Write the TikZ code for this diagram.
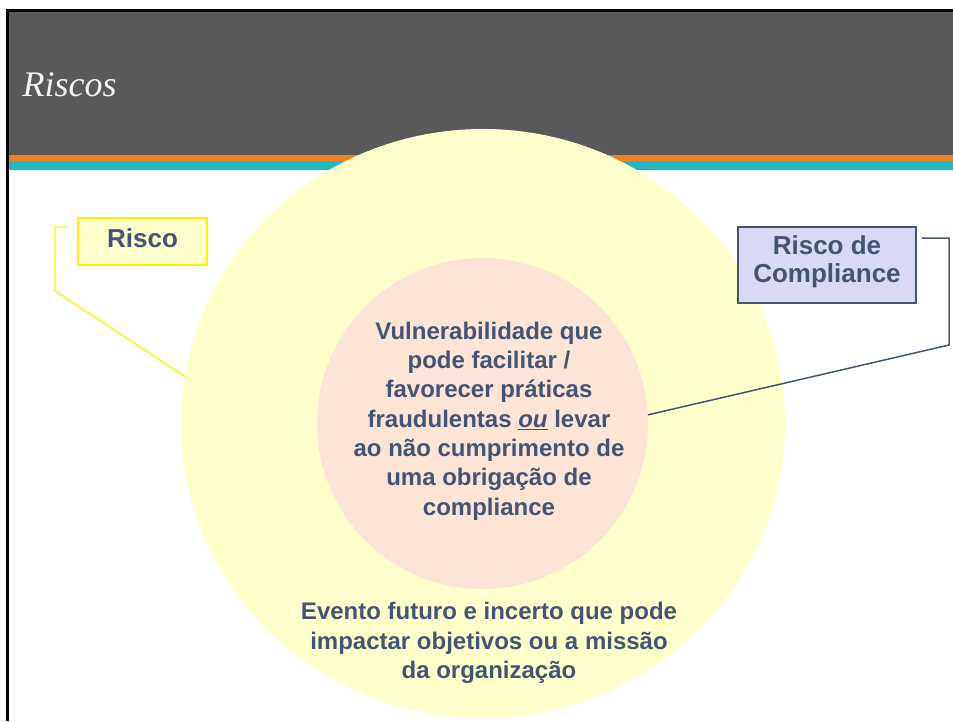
\documentclass[tikz,border=0pt]{standalone}
\usepackage{fontspec}
\setmainfont{Liberation Sans}
\newfontfamily\titlefont{Liberation Serif}
\usepackage{tikz}
\usetikzlibrary{shapes.geometric}

\definecolor{headgray}{RGB}{89,89,89}
\definecolor{stripeorange}{RGB}{240,127,35}
\definecolor{stripeteal}{RGB}{31,185,193}
\definecolor{outeryellow}{RGB}{255,255,204}
\definecolor{innerpeach}{RGB}{252,228,214}
\definecolor{textblue}{RGB}{68,84,116}
\definecolor{boxlilac}{RGB}{217,217,243}

\tikzset{
  bodytext/.style={text=textblue, align=center, font=\bfseries\fontsize{24}{29.3}\selectfont},
  labelbox/.style={text=textblue, align=center, inner sep=0pt, font=\bfseries\fontsize{26}{28.5}\selectfont}
}

\begin{document}
\begin{tikzpicture}[x=1pt, y=-1pt]
        \useasboundingbox (0,0) rectangle (953,721);

        % header
        \fill[headgray] (9,12) rectangle (953,155);
        \fill[stripeorange] (9,155) rectangle (953,161);
        \fill[stripeteal] (9,161) rectangle (953,170);
        \draw[black, line width=3pt] (7.5,721) -- (7.5,10.5) -- (953,10.5);
        \node[anchor=west, text=white!95!black, font=\titlefont\itshape\fontsize{36}{40}\selectfont] (title) at (19,85) {Riscos};

        % circles
        \node[shape=ellipse, fill=outeryellow, inner sep=0pt, minimum width=604pt, minimum height=589pt] (outer) at (483,423.5) {};
        \node[shape=circle, fill=innerpeach, inner sep=0pt, minimum size=331pt] (inner) at (482.5,423.5) {};

        \node[bodytext] (vuln) at (489,421) {Vulnerabilidade que\\pode facilitar /\\favorecer práticas\\fraudulentas \underline{\textit{ou}} levar\\ao não cumprimento de\\uma obrigação de\\compliance};
        \node[bodytext] (evento) at (489,643) {Evento futuro e incerto que pode\\impactar objetivos ou a missão\\da organização};

        % labels
        \node[labelbox, draw=yellow, line width=2pt, fill=outeryellow, minimum width=129pt, minimum height=47pt, text depth=6pt] (risco) at (142.5,241.5) {Risco};
        \node[labelbox, draw=textblue, line width=1.5pt, fill=boxlilac, minimum width=178pt, minimum height=76pt, text depth=11.5pt] (compliance) at (827,265) {Risco de\\Compliance};

        \coordinate (riscotop) at (67,227);
        \coordinate (riscobend) at (55,291);
        \coordinate (compliancetop) at (922,238);
        \coordinate (compliancebend) at (949,345);

        \draw[yellow, line width=1.3pt] (riscotop) -| (riscobend) -- (outer.171.7);
        \draw[textblue, line width=1.5pt] (compliancetop) -| (compliancebend) -- (inner.3);

    \end{tikzpicture}
\end{document}
